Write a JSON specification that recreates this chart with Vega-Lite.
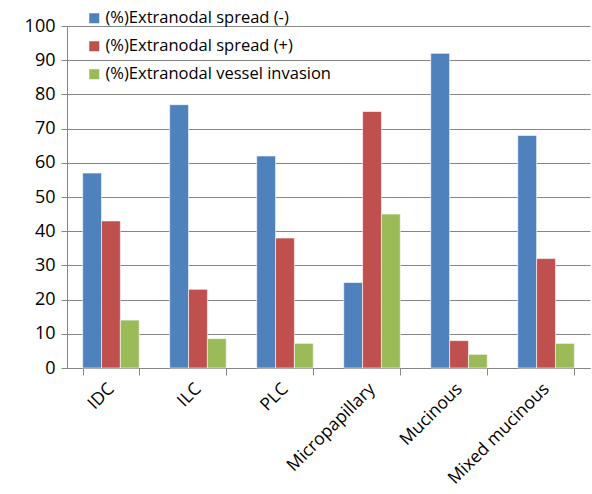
{
  "$schema": "https://vega.github.io/schema/vega-lite/v6.json",
  "width": 523,
  "height": 342,
  "autosize": {"type": "none"},
  "padding": {"left": 67, "top": 26, "right": 2, "bottom": 126},
  "background": "white",
  "config": {
    "view": {"stroke": null},
    "font": "Open Sans"
  },
  "data": {
    "values": [
      {"type": "IDC", "series": "(%)Extranodal spread (-)", "value": 57},
      {"type": "IDC", "series": "(%)Extranodal spread (+)", "value": 43},
      {"type": "IDC", "series": "(%)Extranodal vessel invasion", "value": 14},
      {"type": "ILC", "series": "(%)Extranodal spread (-)", "value": 77},
      {"type": "ILC", "series": "(%)Extranodal spread (+)", "value": 23},
      {"type": "ILC", "series": "(%)Extranodal vessel invasion", "value": 8.6},
      {"type": "PLC", "series": "(%)Extranodal spread (-)", "value": 62},
      {"type": "PLC", "series": "(%)Extranodal spread (+)", "value": 38},
      {"type": "PLC", "series": "(%)Extranodal vessel invasion", "value": 7.2},
      {"type": "Micropapillary", "series": "(%)Extranodal spread (-)", "value": 25},
      {"type": "Micropapillary", "series": "(%)Extranodal spread (+)", "value": 75},
      {"type": "Micropapillary", "series": "(%)Extranodal vessel invasion", "value": 45},
      {"type": "Mucinous", "series": "(%)Extranodal spread (-)", "value": 92},
      {"type": "Mucinous", "series": "(%)Extranodal spread (+)", "value": 8},
      {"type": "Mucinous", "series": "(%)Extranodal vessel invasion", "value": 4},
      {"type": "Mixed mucinous", "series": "(%)Extranodal spread (-)", "value": 68},
      {"type": "Mixed mucinous", "series": "(%)Extranodal spread (+)", "value": 32},
      {"type": "Mixed mucinous", "series": "(%)Extranodal vessel invasion", "value": 7.2}
    ]
  },
  "mark": {"type": "bar", "stroke": "white", "strokeWidth": 0.6},
  "encoding": {
    "x": {
      "field": "type",
      "type": "nominal",
      "sort": null,
      "title": null,
      "scale": {"paddingInner": 0.35, "paddingOuter": 0.18},
      "axis": {
        "labelAngle": -45,
        "labelAlign": "right",
        "labelBaseline": "middle",
        "labelFontSize": 17.5,
        "labelColor": "black",
        "labelPadding": 11,
        "tickBand": "extent",
        "tickColor": "#868686",
        "tickSize": 7,
        "domainColor": "#868686",
        "grid": false
      }
    },
    "xOffset": {"field": "series", "type": "nominal", "sort": null},
    "y": {
      "field": "value",
      "type": "quantitative",
      "title": null,
      "scale": {"domain": [0, 100]},
      "axis": {
        "values": [0, 10, 20, 30, 40, 50, 60, 70, 80, 90, 100],
        "labelFontSize": 18,
        "labelColor": "black",
        "labelPadding": 6,
        "tickColor": "#868686",
        "tickSize": 6,
        "domainColor": "#868686",
        "gridColor": "#868686",
        "gridWidth": 1
      }
    },
    "color": {
      "field": "series",
      "type": "nominal",
      "sort": null,
      "scale": {"range": ["#4F81BD", "#C0504D", "#9BBB59"]},
      "legend": {
        "title": null,
        "orient": "none",
        "legendX": 19,
        "legendY": -16,
        "symbolType": "square",
        "symbolSize": 100,
        "symbolStrokeWidth": 0,
        "labelFontSize": 16.5,
        "labelColor": "black",
        "labelOffset": 3,
        "rowPadding": 11,
        "labelLimit": 400
      }
    }
  }
}
